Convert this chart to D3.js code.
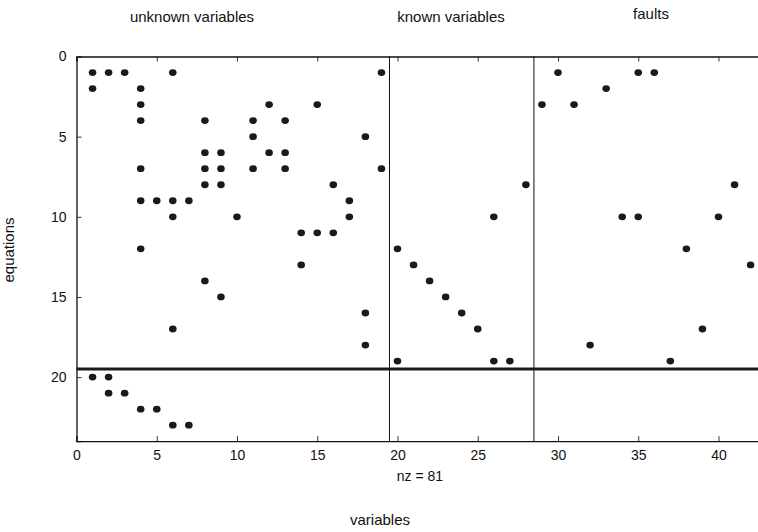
<!DOCTYPE html>
<html>
<head>
<meta charset="utf-8">
<script src="https://cdn.jsdelivr.net/npm/d3@7"></script>
<style>
  body { margin: 0; background: #fff; }
  svg { display: block; }
  text { font-family: "Liberation Sans", Arial, sans-serif; fill: #111; }
</style>
</head>
<body>
<div id="chart-area"></div>
<script>
// spy plot of the structural matrix: [column, row] of every nonzero
var unknownCells = [
  [1,1],[2,1],[3,1],[6,1],[19,1],
  [1,2],[4,2],
  [4,3],[12,3],[15,3],
  [4,4],[8,4],[11,4],[13,4],
  [11,5],[18,5],
  [8,6],[9,6],[12,6],[13,6],
  [4,7],[8,7],[9,7],[11,7],[13,7],[19,7],
  [8,8],[9,8],[16,8],
  [4,9],[5,9],[6,9],[7,9],[17,9],
  [6,10],[10,10],[17,10],
  [14,11],[15,11],[16,11],
  [4,12],[14,13],[8,14],[9,15],[18,16],[6,17],[18,18],
  [1,20],[2,20],[2,21],[3,21],[4,22],[5,22],[6,23],[7,23]
];
var knownCells = [
  [28,8],[26,10],[20,12],[21,13],[22,14],[23,15],[24,16],[25,17],
  [20,19],[26,19],[27,19]
];
var faultCells = [
  [30,1],[35,1],[36,1],[33,2],[29,3],[31,3],[41,8],
  [34,10],[35,10],[40,10],[38,12],[42,13],[39,17],[32,18],[37,19]
];
var blockTitles = ["unknown variables", "known variables", "faults"];
var xTicks = [0, 5, 10, 15, 20, 25, 30, 35, 40];
var yTicks = [0, 5, 10, 15, 20];
var colSplits = [19.5, 28.5];
var rowSplit = 19.5;

var margin = { left: 76.5, top: 56.5 },
    width = 43 * 16.05,
    height = 24 * 16.03;

var svg = d3.select("#chart-area")
    .append("svg")
    .attr("width", 758)
    .attr("height", 532);

var g = svg.append("g")
    .attr("transform", "translate(" + margin.left + "," + margin.top + ")");

// Scales
var x = d3.scaleLinear().domain([0, 43]).range([0, width]);
var y = d3.scaleLinear().domain([0, 24]).range([0, height]);

// Axes, ticks pointing inward
var xAxis = g.append("g")
    .attr("transform", "translate(0," + height + ")")
    .call(d3.axisBottom(x).tickValues(xTicks).tickSize(-5).tickPadding(9).tickFormat(d3.format("d")));
var xTop = g.append("g")
    .call(d3.axisTop(x).tickValues(xTicks).tickSize(-5).tickFormat(""));
var yAxis = g.append("g")
    .call(d3.axisLeft(y).tickValues(yTicks).tickSize(-5).tickPadding(10).tickFormat(d3.format("d")));
var yRight = g.append("g")
    .attr("transform", "translate(" + width + ",0)")
    .call(d3.axisRight(y).tickValues(yTicks).tickSize(-5).tickFormat(""));

g.selectAll(".domain").attr("stroke", "#111").attr("stroke-width", 1.3);
g.selectAll(".tick line").attr("stroke", "#333").attr("stroke-width", 1);
g.selectAll(".tick text").attr("font-size", "14px").attr("fill", "#111")
    .attr("font-family", "Liberation Sans, Arial, sans-serif");

// Block separators
g.selectAll(".vsplit")
    .data(colSplits)
    .enter().append("line")
    .attr("class", "vsplit")
    .attr("x1", function(d){ return x(d); })
    .attr("x2", function(d){ return x(d); })
    .attr("y1", 0)
    .attr("y2", height)
    .attr("stroke", "#111")
    .attr("stroke-width", 1);

g.append("line")
    .attr("x1", 0)
    .attr("x2", width)
    .attr("y1", y(rowSplit))
    .attr("y2", y(rowSplit))
    .attr("stroke", "#1a1a1a")
    .attr("stroke-width", 3);

// Nonzeros
var cells = unknownCells.concat(knownCells, faultCells);
g.selectAll(".nz")
    .data(cells)
    .enter().append("ellipse")
    .attr("class", "nz")
    .attr("cx", function(d){ return x(d[0]); })
    .attr("cy", function(d){ return y(d[1]); })
    .attr("rx", 3.8)
    .attr("ry", 3.4)
    .attr("fill", "#1a1a1a");

// Labels
g.append("text")
    .attr("x", x(21.4))
    .attr("y", height + 40)
    .attr("font-size", "14px")
    .attr("text-anchor", "middle")
    .text("nz = " + cells.length);

svg.append("text")
    .attr("x", 380)
    .attr("y", 525)
    .attr("font-size", "15px")
    .attr("text-anchor", "middle")
    .text("variables");

svg.append("text")
    .attr("transform", "translate(14,250) rotate(-90)")
    .attr("font-size", "15px")
    .attr("text-anchor", "middle")
    .text("equations");

var titleX = [192, 451, 651],
    titleY = [22, 22, 19];
svg.selectAll(".block-title")
    .data(blockTitles)
    .enter().append("text")
    .attr("class", "block-title")
    .attr("x", function(d, i){ return titleX[i]; })
    .attr("y", function(d, i){ return titleY[i]; })
    .attr("font-size", "15px")
    .attr("text-anchor", "middle")
    .text(function(d){ return d; });
</script>
</body>
</html>
